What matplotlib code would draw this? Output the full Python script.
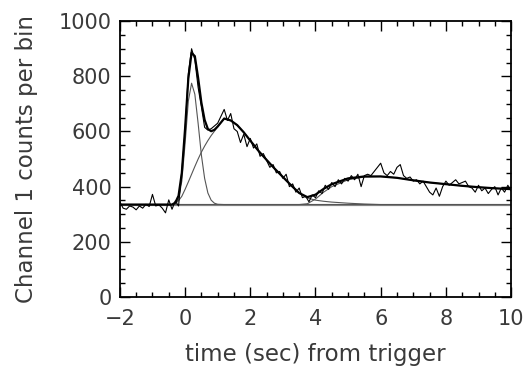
#!/usr/bin/env python3
"""Channel 1 light curve with a three-pulse fit on a flat background."""

import numpy as np
import matplotlib
matplotlib.use("Agg")
import matplotlib.pyplot as plt
from matplotlib.ticker import MultipleLocator

# observed counts, 0.1 s bins from -2 s to 10 s
counts = [
    345, 322, 318, 330, 326, 316, 330, 322, 336, 328,
    372, 330, 334, 322, 305, 352, 318, 348, 330,
    455, 600, 810, 900, 860, 760, 690, 615, 605, 610, 620,
    630, 655, 680, 640, 665, 610, 600, 560, 590, 545,
    575, 540, 555, 510, 520, 495, 470, 480, 450, 455,
    430, 445, 400, 410, 380, 395, 360, 365, 345, 370,
    360, 385, 375, 405, 390, 415, 400, 425, 410, 430,
    420, 440, 425, 445, 400, 440, 445, 440, 455, 470,
    485, 450, 440, 455, 445, 470, 480, 440, 430, 435,
    420, 425, 410, 420, 400, 380, 370, 395, 365, 400,
    420, 405, 415, 425, 410, 415, 420, 400, 395, 380,
    405, 385, 395, 375, 390, 400, 370, 395, 380, 405,
    385,
]
t_counts = np.linspace(-2.0, 10.0, len(counts))

background = 335

# fitted pulse components (counts above background)
t_fit = [-2.0, -0.6, -0.4, -0.3, -0.2, -0.1, 0.0, 0.1, 0.2, 0.3, 0.4, 0.5,
         0.6, 0.7, 0.8, 0.9, 1.0, 1.2, 1.4, 1.6, 1.8, 2.0, 2.25, 2.5, 2.75,
         3.0, 3.25, 3.5, 3.75, 4.0, 4.25, 4.5, 5.0, 5.5, 6.0, 6.5, 7.0, 7.5,
         8.0, 8.5, 9.0, 9.5, 10.0]
pulse_narrow = [0, 0, 0, 3, 18, 85, 220, 375, 440, 400, 295, 180,
                95, 42, 16, 5, 1, 0, 0, 0, 0, 0, 0, 0, 0,
                0, 0, 0, 0, 0, 0, 0, 0, 0, 0, 0, 0, 0,
                0, 0, 0, 0, 0]
pulse_broad = [0, 0, 0, 4, 14, 30, 55, 82, 110, 138, 165, 190,
               212, 232, 250, 266, 282, 312, 305, 288, 262, 232, 195, 162, 130,
               100, 70, 42, 24, 16, 12, 9, 5, 2, 0, 0, 0, 0,
               0, 0, 0, 0, 0]
pulse_late = [0, 0, 0, 0, 0, 0, 0, 0, 0, 0, 0, 0,
              0, 0, 0, 0, 0, 0, 0, 0, 0, 0, 0, 0, 0,
              0, 0, 0, 3, 20, 45, 65, 90, 100, 102, 97, 88, 80,
              74, 68, 63, 59, 56]

t_fit = np.array(t_fit)
narrow = np.array(pulse_narrow) + background
broad = np.array(pulse_broad) + background
late = np.array(pulse_late) + background
total = (np.array(pulse_narrow) + np.array(pulse_broad)
         + np.array(pulse_late) + background)

plt.rcParams["font.family"] = "DejaVu Sans"
text_color = "#3a3a3a"

fig = plt.figure(figsize=(5.28, 3.71), dpi=100)
ax = fig.add_axes([0.227, 0.1995, 0.741, 0.7435])

ax.axhline(background, color="#8c8c8c", lw=1.6, zorder=1)
ax.plot(t_fit, narrow, color="#555555", lw=0.8, zorder=2)
ax.plot(t_fit, broad, color="#555555", lw=0.8, zorder=2)
ax.plot(t_fit, late, color="#555555", lw=0.8, zorder=2)
ax.plot(t_counts, counts, color="black", lw=0.8, zorder=3)
ax.plot(t_fit, total, color="black", lw=1.6, zorder=4)

ax.set_xlim(-2, 10)
ax.set_ylim(0, 1000)
ax.xaxis.set_major_locator(MultipleLocator(2))
ax.xaxis.set_minor_locator(MultipleLocator(0.5))
ax.yaxis.set_major_locator(MultipleLocator(200))
ax.yaxis.set_minor_locator(MultipleLocator(50))

ax.tick_params(which="both", direction="in", top=True, right=True,
               width=1.0, colors="black", labelcolor=text_color, labelsize=15)
ax.tick_params(which="major", length=7)
ax.tick_params(which="minor", length=3.5)
ax.tick_params(axis="x", pad=9)
ax.tick_params(axis="y", pad=6)
for spine in ax.spines.values():
    spine.set_linewidth(1.3)

ax.set_xlabel("time (sec) from trigger", fontsize=16.5, color=text_color, labelpad=10)
ax.set_ylabel("Channel 1 counts per bin", fontsize=16.5, color=text_color, labelpad=15)

fig.savefig("out.png", dpi=100)
